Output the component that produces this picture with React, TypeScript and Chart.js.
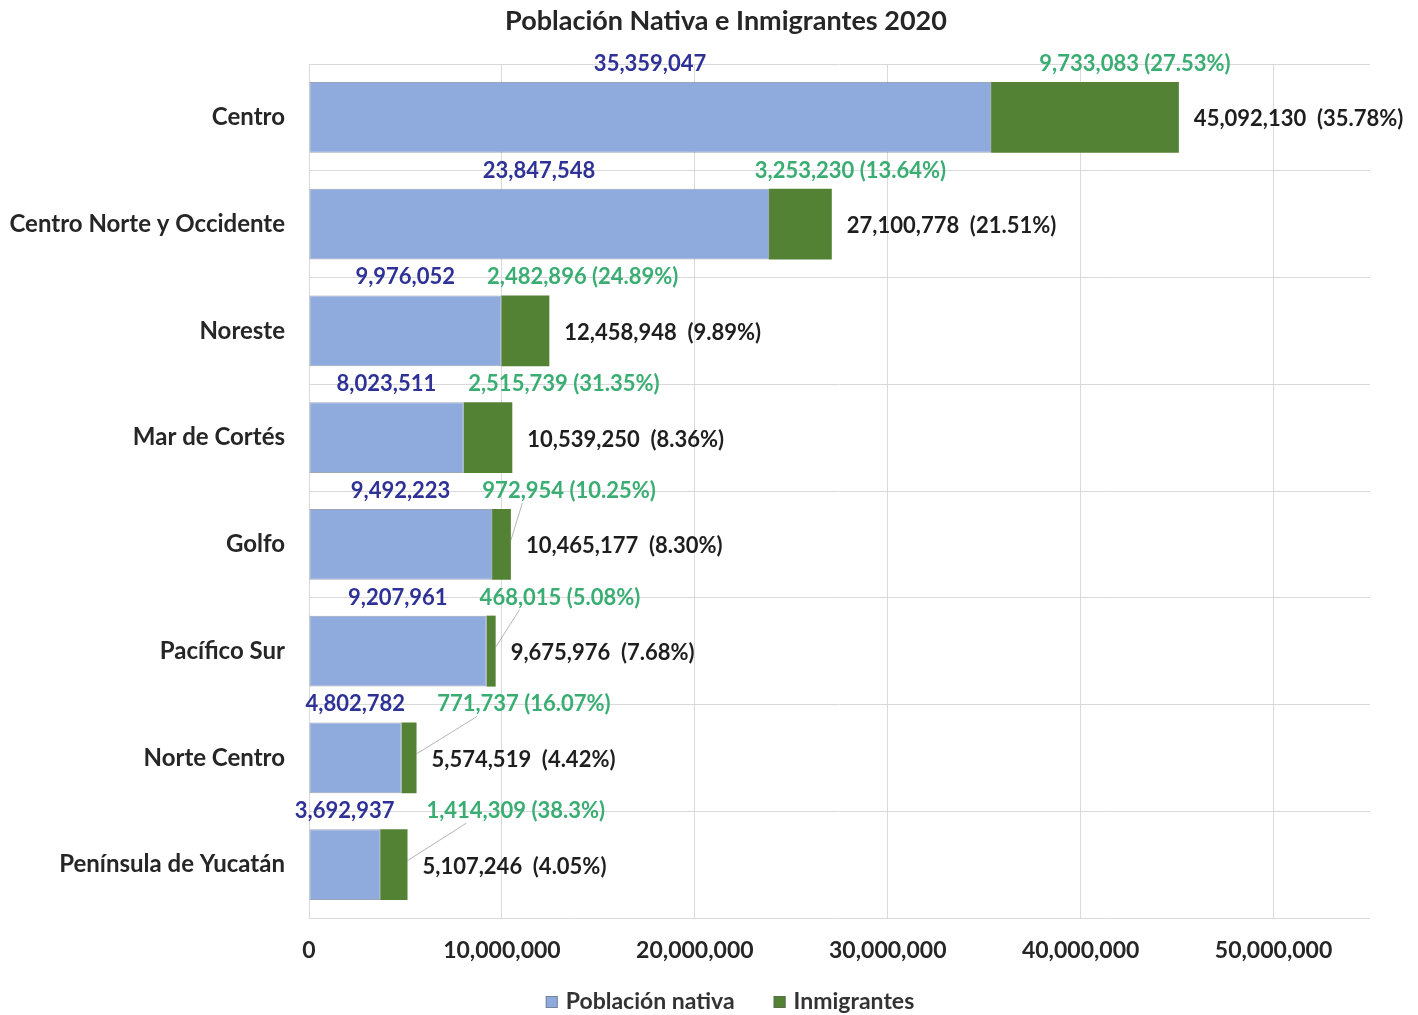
import React, { useEffect, useRef } from "react";
import { Chart, registerables } from "chart.js";

Chart.register(...registerables);

const categories = [
  "Centro",
  "Centro Norte y Occidente",
  "Noreste",
  "Mar de Cortés",
  "Golfo",
  "Pacífico Sur",
  "Norte Centro",
  "Península de Yucatán",
];
const nativa = [35359047, 23847548, 9976052, 8023511, 9492223, 9207961, 4802782, 3692937];
const inmigrantes = [9733083, 3253230, 2482896, 2515739, 972954, 468015, 771737, 1414309];
const pctInmigrantes = ["27.53%", "13.64%", "24.89%", "31.35%", "10.25%", "5.08%", "16.07%", "38.3%"];
const pctTotal = ["35.78%", "21.51%", "9.89%", "8.36%", "8.30%", "7.68%", "4.42%", "4.05%"];
const xTickValues = [0, 10000000, 20000000, 30000000, 40000000, 50000000];
const xMax = 55000000;
const seriesNames = ["Población nativa", "Inmigrantes"];
const title = "Población Nativa e Inmigrantes 2020";

const FONT = "Lato, 'Open Sans', sans-serif";
const BLUE = "#8FAADC";
const GREEN = "#548235";
const BLUE_TXT = "#2E3196";
const GREEN_TXT = "#3AAE72";
const DARK = "#1E1E1E";

const fmt = (v: number) => v.toLocaleString("en-US");

const titlePlugin = {
  id: "customTitle",
  afterDraw(chart: any) {
    const ctx = chart.ctx;
    ctx.save();
    ctx.font = `bold 27px ${FONT}`;
    ctx.fillStyle = "#262626";
    ctx.textAlign = "center";
    ctx.textBaseline = "middle";
    ctx.fillText(title, 726, 21);
    ctx.restore();
  },
};

const labelPlugin = {
  id: "valueLabels",
  afterDatasetsDraw(chart: any) {
    const ctx = chart.ctx;
    const m0 = chart.getDatasetMeta(0);
    const m1 = chart.getDatasetMeta(1);
    const xs = chart.scales.x;
    ctx.save();
    ctx.font = `bold 22px ${FONT}`;
    ctx.textBaseline = "middle";
    categories.forEach((_, i) => {
      const b0 = m0.data[i];
      const b1 = m1.data[i];
      const x0 = xs.getPixelForValue(0);
      const xn = b0.x;
      const xe = b1.x;
      const top = b0.y - b0.height / 2;
      const ly = top - 18;
      // native value
      const blueText = fmt(nativa[i]);
      const bw = ctx.measureText(blueText).width;
      const bcx = (x0 + xn) / 2;
      ctx.fillStyle = BLUE_TXT;
      ctx.textAlign = "center";
      ctx.fillText(blueText, bcx, ly);
      // immigrants value
      const greenText = `${fmt(inmigrantes[i])} (${pctInmigrantes[i]})`;
      const gw = ctx.measureText(greenText).width;
      const segC = (xn + xe) / 2;
      const gLeft = Math.max(bcx + bw / 2 + 32, segC + 50 - gw / 2);
      if (gLeft + gw / 2 - xe > 55) {
        ctx.strokeStyle = "rgba(120,120,120,0.55)";
        ctx.lineWidth = 1;
        ctx.beginPath();
        ctx.moveTo(gLeft + 40, ly + 12);
        ctx.lineTo(xe, b0.y - 4);
        ctx.stroke();
      }
      ctx.fillStyle = GREEN_TXT;
      ctx.textAlign = "left";
      ctx.fillText(greenText, gLeft, ly);
      // total
      const total = nativa[i] + inmigrantes[i];
      ctx.fillStyle = DARK;
      ctx.fillText(`${fmt(total)}  (${pctTotal[i]})`, xe + 15, b0.y + 2);
    });
    ctx.restore();
  },
};

const legendPlugin = {
  id: "customLegend",
  afterDraw(chart: any) {
    const ctx = chart.ctx;
    ctx.save();
    ctx.font = `bold 23px ${FONT}`;
    ctx.textBaseline = "middle";
    ctx.textAlign = "left";
    const colors = [BLUE, GREEN];
    const box = 12;
    const gap = 8;
    const itemGap = 39;
    const widths = seriesNames.map((n) => box + gap + ctx.measureText(n).width);
    const totalW = widths.reduce((a, b) => a + b, 0) + itemGap;
    let x = 730 - totalW / 2;
    const y = 1002;
    seriesNames.forEach((n, i) => {
      ctx.fillStyle = colors[i];
      ctx.fillRect(x, y - box / 2, box, box);
      ctx.strokeStyle = "rgba(90,90,90,0.5)";
      ctx.lineWidth = 1;
      ctx.strokeRect(x + 0.5, y - box / 2 + 0.5, box - 1, box - 1);
      ctx.fillStyle = "#333333";
      ctx.fillText(n, x + box + gap, y);
      x += widths[i] + itemGap;
    });
    ctx.restore();
  },
};

export default function App() {
  const ref = useRef<HTMLCanvasElement | null>(null);
  useEffect(() => {
    if (!ref.current) return;
    const chart = new Chart(ref.current, {
      type: "bar",
      data: {
        labels: categories,
        datasets: [
          {
            label: seriesNames[0],
            data: nativa,
            backgroundColor: BLUE,
            borderColor: "rgba(90,105,140,0.6)",
            borderWidth: 1,
            borderSkipped: false,
            barPercentage: 0.665,
            categoryPercentage: 1,
          },
          {
            label: seriesNames[1],
            data: inmigrantes,
            backgroundColor: GREEN,
            borderWidth: 0,
            barPercentage: 0.665,
            categoryPercentage: 1,
          },
        ],
      },
      options: {
        indexAxis: "y",
        responsive: false,
        animation: false,
        layout: { padding: { left: 0, right: 48, top: 64, bottom: 47 } },
        plugins: {
          legend: { display: false },
          tooltip: { enabled: false },
          title: { display: false },
        },
        scales: {
          x: {
            stacked: true,
            min: 0,
            max: xMax,
            afterBuildTicks: (scale: any) => {
              scale.ticks = xTickValues.map((v) => ({ value: v }));
            },
            afterFit: (scale: any) => {
              scale.height = 50;
            },
            grid: { color: "#D9D9D9", drawTicks: false },
            border: { display: false },
            ticks: {
              padding: 19,
              color: "#262626",
              font: { family: FONT, size: 23, weight: "bold" },
              callback: (v: any) => fmt(Number(v)),
            },
          },
          y: {
            stacked: true,
            afterFit: (scale: any) => {
              scale.width = 309;
            },
            grid: { color: "#D9D9D9", drawTicks: false, offset: true },
            border: { display: false },
            ticks: {
              padding: 24,
              color: "#262626",
              font: { family: FONT, size: 24, weight: "bold" },
            },
          },
        },
      },
      plugins: [labelPlugin, legendPlugin, titlePlugin],
    } as any);
    return () => chart.destroy();
  }, []);
  return (
    <div style={{ position: "fixed", left: 0, top: 0, width: 1418, height: 1015, background: "#ffffff" }}>
      <canvas ref={ref} width={1418} height={1015} />
    </div>
  );
}
